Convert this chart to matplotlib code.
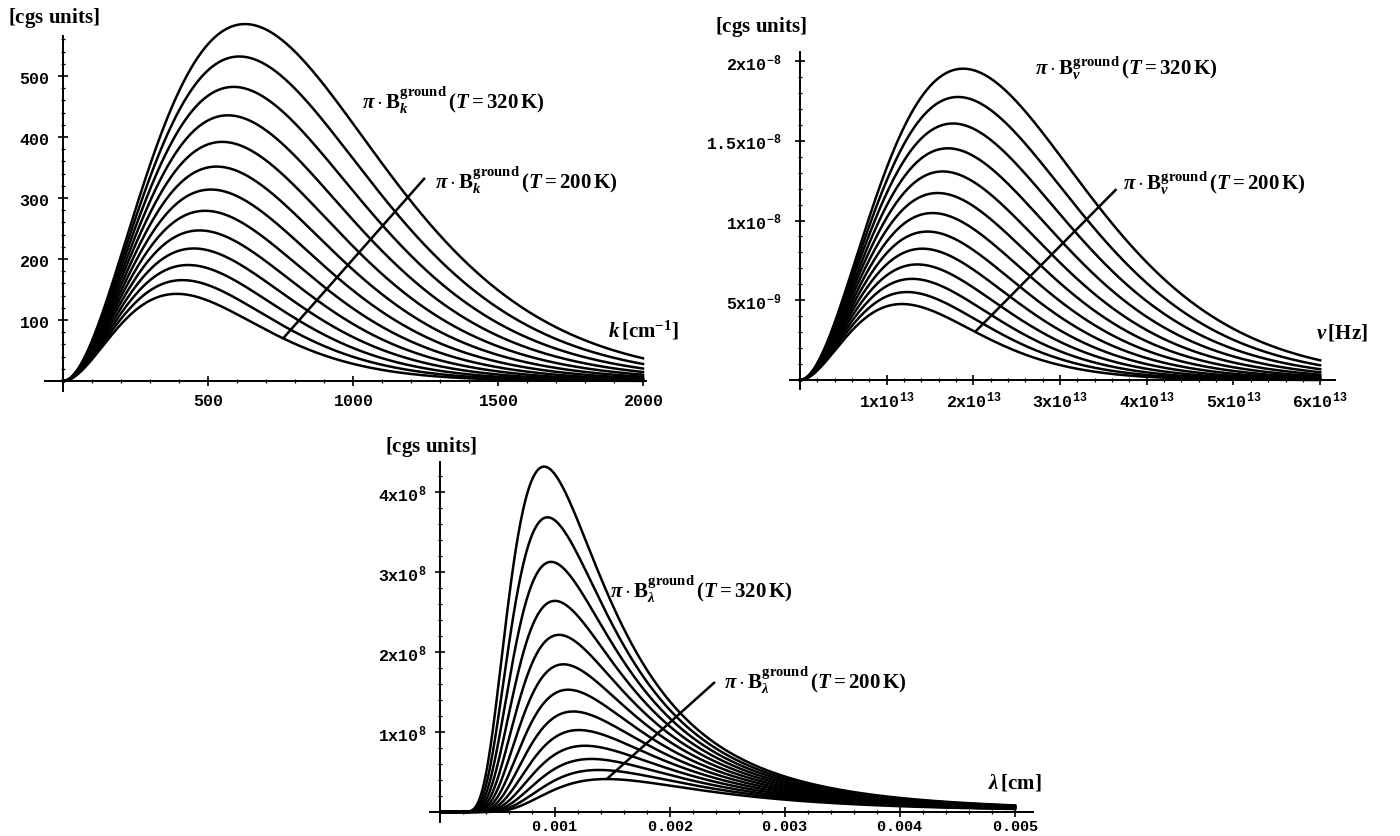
import numpy as np
import matplotlib.pyplot as plt

# ---- data ----
temperatures = [200, 210, 220, 230, 240, 250, 260, 270, 280, 290, 300, 310, 320]  # K

k_ticks = [500, 1000, 1500, 2000]
k_tick_labels = ["500", "1000", "1500", "2000"]
bk_ticks = [100, 200, 300, 400, 500]
bk_tick_labels = ["100", "200", "300", "400", "500"]

nu_ticks = [1e13, 2e13, 3e13, 4e13, 5e13, 6e13]
nu_tick_labels = ["1x10^{13}", "2x10^{13}", "3x10^{13}", "4x10^{13}", "5x10^{13}", "6x10^{13}"]
bnu_ticks = [5e-9, 1e-8, 1.5e-8, 2e-8]
bnu_tick_labels = ["5x10^{-9}", "1x10^{-8}", "1.5x10^{-8}", "2x10^{-8}"]

lam_ticks = [0.001, 0.002, 0.003, 0.004, 0.005]
lam_tick_labels = ["0.001", "0.002", "0.003", "0.004", "0.005"]
blam_ticks = [1e8, 2e8, 3e8, 4e8]
blam_tick_labels = ["1x10^{8}", "2x10^{8}", "3x10^{8}", "4x10^{8}"]

# where the T = 200 K pointer line touches the lowest curve
pointer_k = 759.0
pointer_nu = 2.02e13
pointer_lam = 0.00145

# cgs constants
H = 6.62607e-27
C = 2.99792e10
KB = 1.380649e-16

plt.rcParams["mathtext.fontset"] = "custom"
plt.rcParams["mathtext.rm"] = "Liberation Serif:bold"
plt.rcParams["mathtext.it"] = "Liberation Serif:italic:bold"
plt.rcParams["mathtext.bf"] = "Liberation Serif:bold"
plt.rcParams["mathtext.tt"] = "Liberation Mono:bold"


def pi_b_k(k, T):
    with np.errstate(over="ignore", divide="ignore", invalid="ignore"):
        return np.pi * 2 * H * C**2 * k**3 / np.expm1(H * C * k / (KB * T))


def pi_b_nu(nu, T):
    with np.errstate(over="ignore", divide="ignore", invalid="ignore"):
        return np.pi * 2 * H * nu**3 / C**2 / np.expm1(H * nu / (KB * T))


def pi_b_lam(lam, T):
    with np.errstate(over="ignore", divide="ignore", invalid="ignore"):
        val = np.pi * 2 * H * C**2 / lam**5 / np.expm1(H * C / (lam * KB * T))
    return np.nan_to_num(val)


def px_axes(fig, left, right, top, bottom):
    W, Hh = 1400.0, 837.0
    return fig.add_axes([left / W, 1 - bottom / Hh, (right - left) / W, (bottom - top) / Hh])


def style_axes(ax, xlim, ylim, xb, yb, xmaj, xlab, ymaj, ylab, xminor, yminor,
               ypad, xpad=4, xsize=12):
    ax.set_xlim(*xlim)
    ax.set_ylim(*ylim)
    ax.spines["top"].set_visible(False)
    ax.spines["right"].set_visible(False)
    for s in ("left", "bottom"):
        ax.spines[s].set_position(("data", 0))
        ax.spines[s].set_linewidth(1.4)
    ax.spines["bottom"].set_bounds(*xb)
    ax.spines["left"].set_bounds(*yb)
    ax.set_xticks(xmaj)
    ax.set_xticklabels([r"$\mathtt{%s}$" % s for s in xlab])
    ax.set_yticks(ymaj)
    ax.set_yticklabels([r"$\mathtt{%s}$" % s for s in ylab])
    ax.set_xticks(xminor, minor=True)
    ax.set_yticks(yminor, minor=True)
    ax.tick_params(which="major", direction="inout", length=7, width=1.2, labelsize=12)
    ax.tick_params(which="minor", direction="inout", length=3.5, width=0.9)
    ax.tick_params(axis="x", which="major", pad=xpad, labelsize=xsize)
    ax.tick_params(axis="y", which="major", pad=ypad)
    ax.patch.set_visible(False)


def label_with_pointer(ax, text, x_curve, y_curve, x_end, y_end, x_text, y_text):
    ax.plot([x_curve, x_end], [y_curve, y_end], color="black", lw=lw, clip_on=False,
            solid_capstyle="butt")
    ax.text(x_text, y_text, text, fontsize=lab_fs, ha="left", va="center")


fig = plt.figure(figsize=(14, 8.37), dpi=100)
lw = 1.8
lab_fs = 15

# ---- top left: per wavenumber ----
ax1 = px_axes(fig, 44.15, 657.5, 16.0, 394.2)
k = np.linspace(0.5, 2000, 800)
for T in temperatures:
    ax1.plot(k, pi_b_k(k, T), color="black", lw=lw, clip_on=False)
style_axes(ax1, (-65, 2050), (-20, 600), (-62, 2010), (-16, 565),
           k_ticks, k_tick_labels, bk_ticks, bk_tick_labels,
           np.arange(100, 2001, 100), np.arange(20, 561, 20), 6)
ax1.text(1031, 462, r"$\pi\cdot\mathrm{B}_{k}^{\mathrm{ground}}\,(T=320\,\mathrm{K})$",
         fontsize=lab_fs, ha="left", va="center")
label_with_pointer(ax1, r"$\pi\cdot\mathrm{B}_{k}^{\mathrm{ground}}\,(T=200\,\mathrm{K})$",
                   pointer_k, pi_b_k(pointer_k, temperatures[0]), 1248, 333, 1283, 331)
ax1.text(2124, 85, r"$k\,[\mathrm{cm}^{-1}]$", fontsize=lab_fs, ha="right", va="center")
fig.text(8 / 1400, 1 - 18 / 837, r"$[\mathrm{cgs\ units}]$", fontsize=lab_fs,
         ha="left", va="center")

# ---- top right: per frequency ----
ax2 = px_axes(fig, 787.0, 1346.2, 30.1, 393.8)
nu = np.linspace(1e10, 6e13, 800)
for T in temperatures:
    ax2.plot(nu, pi_b_nu(nu, T), color="black", lw=lw, clip_on=False)
style_axes(ax2, (-0.15e13, 6.3e13), (-0.8e-9, 22e-9), (-0.115e13, 6.17e13), (-0.56e-9, 20.56e-9),
           nu_ticks, nu_tick_labels, bnu_ticks, bnu_tick_labels,
           np.arange(2e12, 6.01e13, 2e12), np.arange(1e-9, 20.5e-9, 1e-9), 10)
ax2.text(2.71e13, 19.6e-9, r"$\pi\cdot\mathrm{B}_{\nu}^{\mathrm{ground}}\,(T=320\,\mathrm{K})$",
         fontsize=lab_fs, ha="left", va="center")
label_with_pointer(ax2, r"$\pi\cdot\mathrm{B}_{\nu}^{\mathrm{ground}}\,(T=200\,\mathrm{K})$",
                   pointer_nu, pi_b_nu(pointer_nu, temperatures[0]), 3.65e13, 11.97e-9,
                   3.72e13, 12.4e-9)
ax2.text(6.55e13, 3.07e-9, r"$\nu\,[\mathrm{Hz}]$", fontsize=lab_fs, ha="right", va="center")
fig.text(715 / 1400, 1 - 27 / 837, r"$[\mathrm{cgs\ units}]$", fontsize=lab_fs,
         ha="left", va="center")

# ---- bottom: per wavelength ----
ax3 = px_axes(fig, 428.5, 1038.0, 453.0, 825.0)
lam = np.linspace(1e-5, 0.005, 1000)
for T in temperatures:
    ax3.plot(lam, pi_b_lam(lam, T), color="black", lw=lw, clip_on=False)
style_axes(ax3, (-0.0001, 0.0052), (-0.15e8, 4.5e8), (-0.000087, 0.00516), (-0.125e8, 4.375e8),
           lam_ticks, lam_tick_labels, blam_ticks, blam_tick_labels,
           np.arange(0.0002, 0.00501, 0.0002), np.arange(2e7, 4.3e8, 2e7), 6,
           xpad=0.5, xsize=11)
ax3.text(0.001478, 2.79e8, r"$\pi\cdot\mathrm{B}_{\lambda}^{\mathrm{ground}}\,(T=320\,\mathrm{K})$",
         fontsize=lab_fs, ha="left", va="center")
label_with_pointer(ax3, r"$\pi\cdot\mathrm{B}_{\lambda}^{\mathrm{ground}}\,(T=200\,\mathrm{K})$",
                   pointer_lam, pi_b_lam(pointer_lam, temperatures[0]), 0.002391, 1.625e8,
                   0.002470, 1.66e8)
ax3.text(0.005235, 0.375e8, r"$\lambda\,[\mathrm{cm}]$", fontsize=lab_fs, ha="right", va="center")
fig.text(385 / 1400, 1 - 447 / 837, r"$[\mathrm{cgs\ units}]$", fontsize=lab_fs,
         ha="left", va="center")

fig.savefig("out.png", dpi=100, facecolor="white")
